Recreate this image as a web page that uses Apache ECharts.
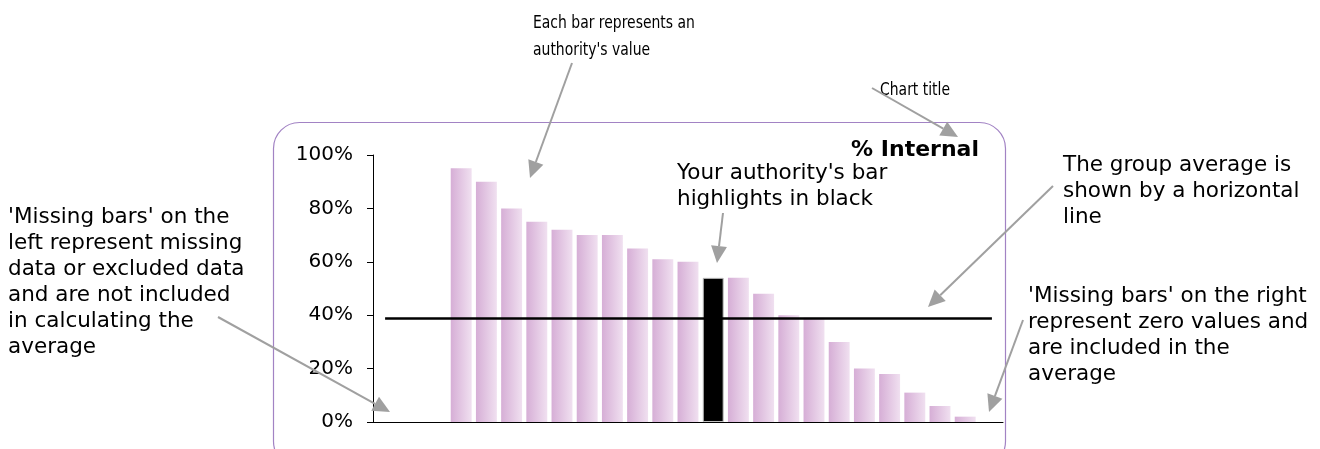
<!DOCTYPE html>
<html>
<head>
<meta charset="utf-8">
<script src="https://cdn.jsdelivr.net/npm/echarts@6/dist/echarts.min.js"></script>
<style>
html,body{margin:0;padding:0;background:#fff;}
#chart{width:1320px;height:449px;}
</style>
</head>
<body>
<div id="chart"></div>
<script>
// ---- data ----
const categories = ['A1','A2','A3','A4','A5','A6','A7','A8','A9','A10','A11','A12','A13','A14','A15','A16','A17','A18','A19','A20','A21','A22','A23','A24','A25'];
const values = [null,null,null,95,90,80,75,72,70,70,65,61,60,54,54,48,40,39,30,20,18,11,6,2,0];
const highlightIndex = 13;
const groupAverage = 38.8;
const averageSpan = [0.48, 24.56];
const yTicks = [0,20,40,60,80,100];
const chartTitle = '% Internal';

const barGradient = {
  type:'linear', x:0, y:0, x2:1, y2:0,
  colorStops:[{offset:0,color:'#d6aed6'},{offset:1,color:'#f0e0f0'}]
};

const barData = values.map((v,i)=> i===highlightIndex
  ? {value:v, itemStyle:{color:'#000', borderColor:'#c0c0c0', borderWidth:1}}
  : v);

const ANN_FONT = '21.5px "DejaVu Sans", Verdana, sans-serif';
const TOP_FONT = '15.5px "DejaVu Sans Condensed", Tahoma, sans-serif';
const ARROW = '#a0a0a0';

function textEl(x, yCenterFirst, lines, font, lh, align, sy){
  const el = {
    type:'text', z:100,
    style:{
      text: lines.join('\n'), x:0, y:0,
      font:font, fill:'#000', lineHeight:lh,
      textAlign: align || 'left', textVerticalAlign:'top'
    },
    x:x, y:yCenterFirst - (lh*(sy||1))/2
  };
  if (sy) { el.scaleY = sy; }
  return el;
}
function arrow(x1,y1,x2,y2){
  const dx=x2-x1, dy=y2-y1, L=Math.sqrt(dx*dx+dy*dy);
  const ux=dx/L, uy=dy/L, hl=17, hw=8;
  const bx=x2-ux*hl, by=y2-uy*hl;
  return [
    {type:'line', z:100, shape:{x1:x1,y1:y1,x2:bx,y2:by}, style:{stroke:ARROW, lineWidth:2}},
    {type:'polygon', z:100, shape:{points:[[x2,y2],[bx-uy*hw,by+ux*hw],[bx+uy*hw,by-ux*hw]]}, style:{fill:ARROW}}
  ];
}

const graphics = [
  {type:'rect', z:0, shape:{x:273.5, y:122.5, width:732, height:345, r:26}, style:{fill:'none', stroke:'#a283c4', lineWidth:1.2}},
  textEl(979, 150, [chartTitle], 'bold 22px "DejaVu Sans", Verdana, sans-serif', 26, 'right'),
  textEl(533, 23, ['Each bar represents an', "authority's value"], TOP_FONT, 23.5, 'left', 1.15),
  textEl(880, 90, ['Chart title'], TOP_FONT, 23.5, 'left', 1.15),
  textEl(677, 173, ["Your authority's bar", 'highlights in black'], ANN_FONT, 26),
  textEl(1063, 165, ['The group average is', 'shown by a horizontal', 'line'], ANN_FONT, 26),
  textEl(8, 217, ["'Missing bars' on the", 'left represent missing', 'data or excluded data', 'and are not included', 'in calculating the', 'average'], ANN_FONT, 26),
  textEl(1028, 296, ["'Missing bars' on the right", 'represent zero values and', 'are included in the', 'average'], ANN_FONT, 26),
  ...arrow(572,63,530,178),
  ...arrow(872,88,958,137),
  ...arrow(723,213,717,263),
  ...arrow(1053,186,928,307),
  ...arrow(1023,320,989,412),
  ...arrow(218,317,390,412)
];

const chart = echarts.init(document.getElementById('chart'), null, {renderer:'canvas'});
chart.setOption({
  animation:false,
  backgroundColor:'#fff',
  grid:{left:373, right:317, top:155, bottom:27, containLabel:false},
  xAxis:[
    {type:'category', data:categories, axisLabel:{show:false}, axisTick:{show:false},
     axisLine:{show:true, lineStyle:{color:'#000', width:1}}},
    {type:'value', min:0, max:categories.length, show:false}
  ],
  yAxis:{type:'value', min:yTicks[0], max:yTicks[yTicks.length-1], interval:20,
    axisLine:{show:true, lineStyle:{color:'#000', width:1}},
    axisTick:{show:true, length:6, inside:false, lineStyle:{color:'#000'}},
    splitLine:{show:false},
    axisLabel:{formatter:'{value}%', color:'#000', fontSize:20, fontFamily:'"DejaVu Sans", Verdana, sans-serif', margin:20}
  },
  series:[
    {type:'bar', data:barData, barCategoryGap:'17%', itemStyle:{color:barGradient}, z:2},
    {type:'line', xAxisIndex:1, data:[[averageSpan[0],groupAverage],[averageSpan[1],groupAverage]],
     symbol:'none', lineStyle:{color:'#000', width:2.5}, z:5}
  ],
  graphic:graphics
});
</script>
</body>
</html>
